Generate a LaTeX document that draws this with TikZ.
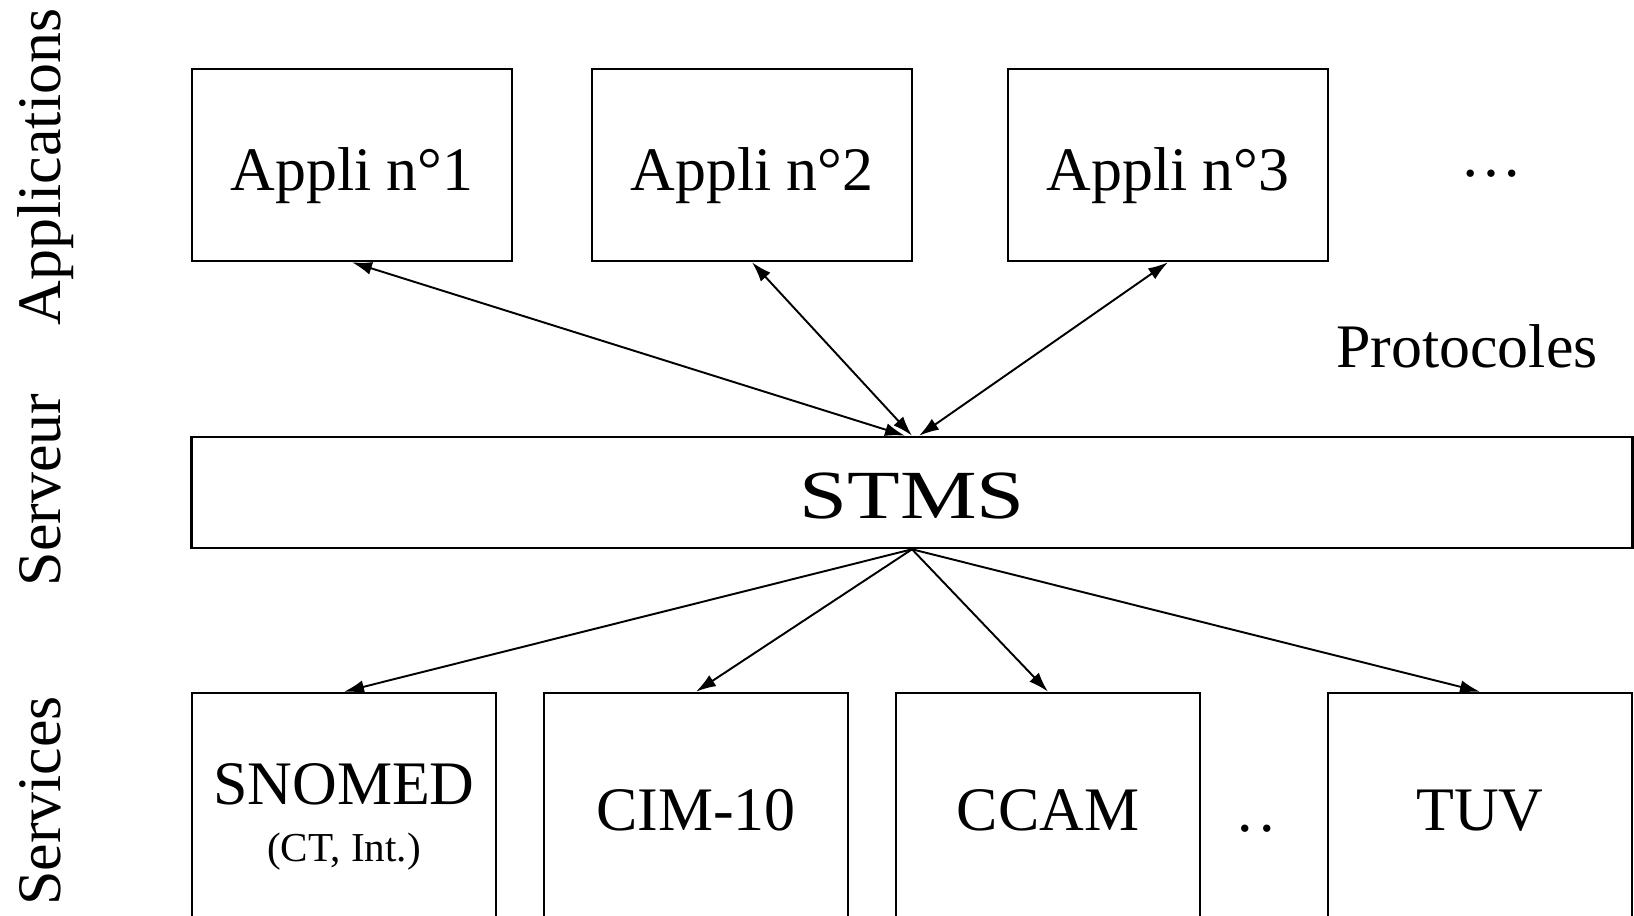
\documentclass[tikz,border=0pt]{standalone}
\usepackage{graphicx}
\usepackage{fontspec}
\setmainfont{Liberation Serif}
\usetikzlibrary{arrows.meta}

\begin{document}
\begin{tikzpicture}[x=0.01cm, y=-0.01cm,
    >={Latex[length=2mm,width=1.3mm]},
    every node/.style={font=\fontsize{17.6}{21}\selectfont},
    appbox/.style={draw, line width=0.7pt, inner sep=0pt, minimum width=3.2cm,
        text height=1.21cm, text depth=0.71cm},
    srvbox/.style={draw, line width=0.7pt, inner sep=0pt, minimum width=14.4cm,
        text height=0.81cm, text depth=0.30cm},
    svcbox/.style={draw, line width=0.7pt, inner sep=0pt, minimum width=3.04cm,
        text height=1.37cm, text depth=1.10cm},
    layer/.style={rotate=90, anchor=base},
    link/.style={line width=0.55pt}]
    \useasboundingbox (0,0) rectangle (1634,915);
    \clip (0,0) rectangle (1634,915);

    % Draw layer names
    \node[layer] (lapp) at (60,167) {Applications};
    \node[layer] (lsrv) at (60,490) {Serveur};
    \node[layer] (lsvc) at (60,801) {Services};

    % Draw application boxes
    \node[appbox] (app1) at (352,165) {Appli n°1};
    \node[appbox] (app2) at (752,165) {Appli n°2};
    \node[appbox] (app3) at (1168,165) {Appli n°3};
    \node[anchor=base] (appmore) at (1491,176) {…};
    \node[anchor=base] (proto) at (1467,367) {Protocoles};

    % Draw server
    \node[srvbox] (stms) at (912,492.5)
        {\fontsize{19.6}{23}\selectfont\scalebox{1.25}[1]{STMS}};

    % Draw service boxes
    \node[svcbox, align=center, text height=1.68cm, text depth=0.79cm] (snomed) at (344,816.5)
        {SNOMED\\[-5pt]{\fontsize{11.7}{14}\selectfont (CT, Int.)}};
    \node[svcbox] (cim) at (696,816.5) {CIM-10};
    \node[svcbox] (ccam) at (1048,816.5) {CCAM};
    \node[anchor=base] (svcmore) at (1256,831) {.\kern0.1em.};
    \node[svcbox] (tuv) at (1480,816.5) {TUV};

    % Draw protocol links
    \draw[link,<->] (app1.south) -- ([xshift=-0.07cm]stms.north);
    \draw[link,<->] (app2.south) -- (stms.north);
    \draw[link,<->] (app3.south) -- ([xshift=0.07cm]stms.north);

    % Draw service links
    \draw[link,->] (stms.south) -- (snomed.north);
    \draw[link,->] (stms.south) -- (cim.north);
    \draw[link,->] (stms.south) -- (ccam.north);
    \draw[link,->] (stms.south) -- (tuv.north);
\end{tikzpicture}
\end{document}
